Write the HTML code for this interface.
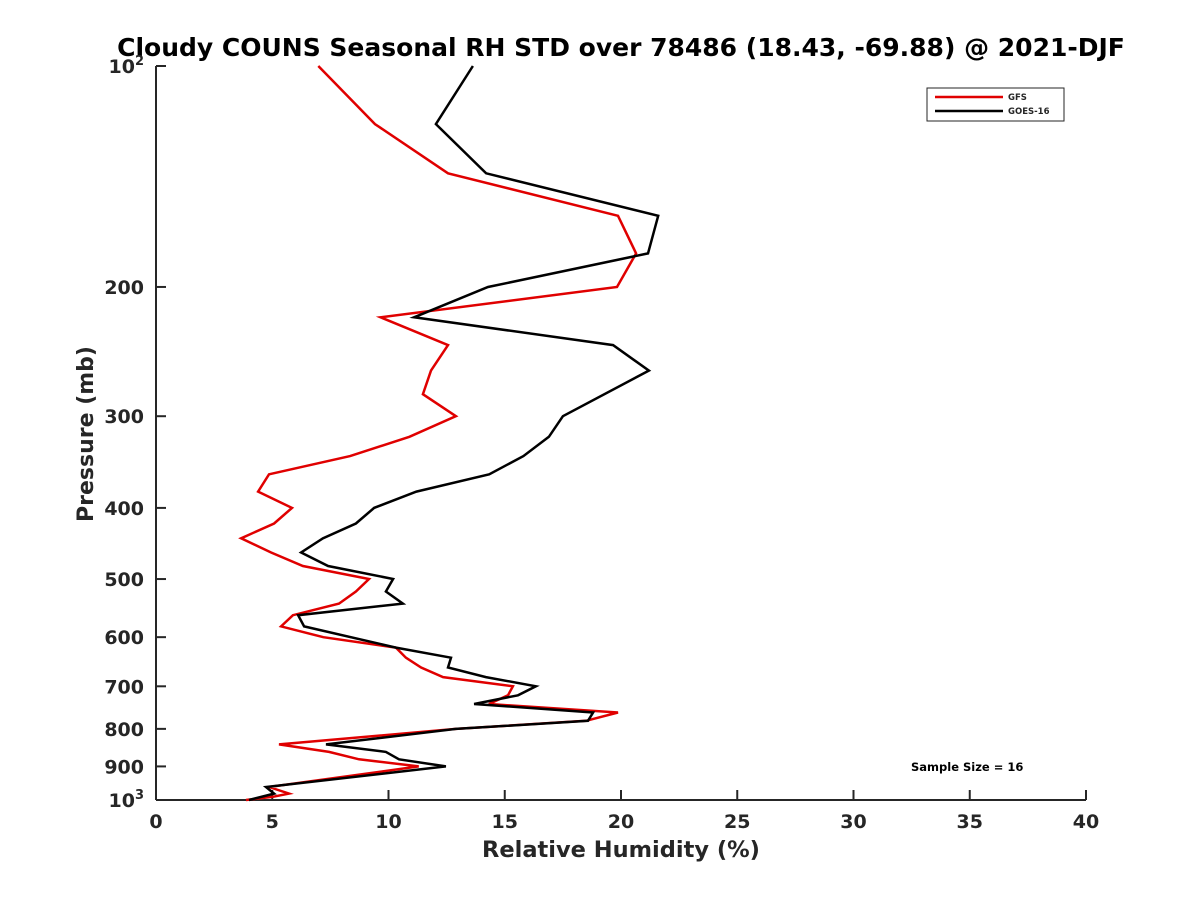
<!DOCTYPE html>
<html><head><meta charset="utf-8"><style>
body{margin:0;background:#fff;}
svg text{font-family:"DejaVu Sans","Liberation Sans",sans-serif;font-weight:bold;fill:#262626;}
</style></head><body>
<svg id="chart" width="1200" height="900" viewBox="0 0 1200 900" xmlns="http://www.w3.org/2000/svg">
<rect width="1200" height="900" fill="#fff"/>
<text x="621" y="56" text-anchor="middle" font-size="25" style="fill:#000">Cloudy COUNS Seasonal RH STD over 78486 (18.43, -69.88) @ 2021-DJF</text>
<g id="axes"></g>
<g id="series"></g>
<g>
<rect x="927" y="88" width="137" height="33" fill="#fff" stroke="#262626" stroke-width="1"/>
<line x1="935" y1="97" x2="1003" y2="97" stroke="#e00000" stroke-width="2.5"/>
<text x="1008" y="100" font-size="8.5">GFS</text>
<line x1="935" y1="111" x2="1003" y2="111" stroke="#000" stroke-width="2.5"/>
<text x="1008" y="114" font-size="8.5">GOES-16</text>
</g>
<text x="911" y="771" font-size="11.5" style="fill:#000">Sample Size = 16</text>
<text x="621" y="857" text-anchor="middle" font-size="22.5">Relative Humidity (%)</text>
<text transform="translate(93,434) rotate(-90)" text-anchor="middle" font-size="22">Pressure (mb)</text>
</svg>
<script>
const xTicks=[0,5,10,15,20,25,30,35,40];
const yTicks=[100,200,300,400,500,600,700,800,900,1000];
const gfsP=[100,120,140,160,180,200,220,240,260,280,300,320,340,360,380,400,420,440,460,480,500,520,540,560,580,600,620,640,660,680,700,720,740,760,780,800,840,860,880,900,960,980,990,1000];
const gfsRH=[6.98,9.42,12.56,19.87,20.65,19.83,9.66,12.56,11.83,11.48,12.9,10.9,8.35,4.86,4.39,5.85,5.08,3.66,4.95,6.32,9.16,8.6,7.87,5.89,5.38,7.2,10.32,10.75,11.4,12.35,15.35,15.14,14.32,19.87,18.5,12.9,5.29,7.44,8.73,11.3,4.86,5.72,5.03,3.87];
const goesP=[100,120,140,160,180,200,220,240,260,300,320,340,360,380,400,420,440,460,480,500,520,540,560,580,620,640,660,680,700,720,740,760,780,800,840,860,880,900,960,980,1000];
const goesRH=[13.63,12.04,14.2,21.6,21.16,14.28,11.1,19.66,21.2,17.5,16.9,15.8,14.33,11.2,9.38,8.6,7.18,6.24,7.4,10.2,9.89,10.62,6.11,6.37,10.32,12.69,12.56,14.19,16.34,15.57,13.68,18.8,18.58,12.9,7.31,9.89,10.45,12.47,4.73,5.08,4.0];
const X0=156,X1=1086,Y0=66,Y1=800;
const xs=v=>X0+(v-0)/40*(X1-X0);
const ys=p=>Y0+Math.log10(p/100)*(Y1-Y0);
const NS="http://www.w3.org/2000/svg";
const axes=document.getElementById('axes');
function mk(tag,attrs,parent){const e=document.createElementNS(NS,tag);for(const k in attrs)e.setAttribute(k,attrs[k]);parent.appendChild(e);return e;}
const yl=mk('line',{x1:X0,y1:Y0,x2:X0,y2:Y1,stroke:'#262626','stroke-width':2},axes);


const xl=mk('line',{x1:X0,y1:Y1,x2:X1,y2:Y1,stroke:'#262626','stroke-width':2},axes);


xTicks.forEach(v=>{
 const t=mk('line',{x1:xs(v),y1:Y1,x2:xs(v),y2:Y1-10,stroke:'#262626','stroke-width':2},axes);
 
 
 const l=mk('text',{x:xs(v),y:Y1+28,'text-anchor':'middle','font-size':19},axes);
 l.textContent=v;
 
 
});
yTicks.forEach(p=>{
 const t=mk('line',{x1:X0,y1:ys(p),x2:X0+10,y2:ys(p),stroke:'#262626','stroke-width':2},axes);
 
 
 const l=mk('text',{x:X0-12,y:ys(p)+7,'text-anchor':'end','font-size':19},axes);
 if(p===100){l.innerHTML='10<tspan dy="-8" font-size="13">2</tspan>';}
 else if(p===1000){l.innerHTML='10<tspan dy="-8" font-size="13">3</tspan>';}
 else l.textContent=p;
 
 
});
const ser=document.getElementById('series');
function line(P,V,color,name){
 const pts=P.map((p,i)=>xs(V[i]).toFixed(1)+','+ys(p).toFixed(1)).join(' ');
 const pl=mk('polyline',{points:pts,fill:'none',stroke:color,'stroke-width':2.5,'stroke-linejoin':'miter'},ser);
 
 
}
line(gfsP,gfsRH,'#e00000','gfs-line');
line(goesP,goesRH,'#000000','goes16-line');
</script>
</body></html>
